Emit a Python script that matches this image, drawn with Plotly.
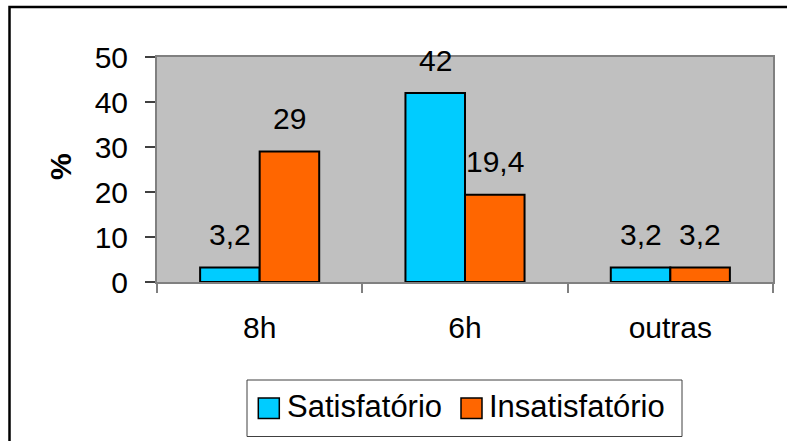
import plotly.graph_objects as go

categories = ["8h", "6h", "outras"]
satisfatorio = [3.2, 42, 3.2]
insatisfatorio = [29, 19.4, 3.2]
series_names = ["Satisfatório", "Insatisfatório"]
y_ticks = [0, 10, 20, 30, 40, 50]

BLUE = "#00CCFF"
ORANGE = "#FF6600"
FONT = "Liberation Sans, Arial, sans-serif"

W, H = 787, 441
L, R, T, B = 157, 14, 57, 159
PW, PH = W - L - R, H - T - B


def px_x(px):
    return (px - L) / PW


def px_y(py):
    return (H - B - py) / PH


def fmt(v):
    return f"{v:g}".replace(".", ",")


fig = go.Figure()
for name, vals, col in [(series_names[0], satisfatorio, BLUE),
                        (series_names[1], insatisfatorio, ORANGE)]:
    fig.add_trace(go.Bar(
        x=categories, y=vals, name=name,
        marker=dict(color=col, line=dict(color="black", width=2)),
        showlegend=False,
    ))

annotations = []
bar_px = PW / len(categories) * 0.58 / 2
for vals, sgn in [(satisfatorio, -1), (insatisfatorio, 1)]:
    for c, v in zip(categories, vals):
        annotations.append(dict(
            x=c, y=v, xref="x", yref="y", text=fmt(v), showarrow=False,
            xshift=sgn * bar_px / 2, yshift=33, yanchor="middle",
            font=dict(family=FONT, size=30, color="black"),
        ))

# y-axis title
annotations.append(dict(
    x=px_x(60), y=px_y(167), xref="paper", yref="paper", text="<b>%</b>",
    textangle=-90, showarrow=False, xanchor="center", yanchor="middle",
    font=dict(family=FONT, size=30, color="black"),
))

# legend (drawn)
leg_items = [(series_names[0], BLUE, 258.3, 287), (series_names[1], ORANGE, 461, 489)]
shapes = [
    dict(type="rect", xref="paper", yref="paper",
         x0=px_x(9.5), x1=px_x(800), y0=px_y(7), y1=px_y(460),
         line=dict(color="black", width=2.5), fillcolor="rgba(0,0,0,0)", layer="above"),
    dict(type="rect", xref="paper", yref="paper",
         x0=px_x(247), x1=px_x(682), y0=px_y(380), y1=px_y(436.5),
         line=dict(color="#404040", width=1), fillcolor="white"),
]
for name, col, sx, tx in leg_items:
    shapes.append(dict(type="rect", xref="paper", yref="paper",
                       x0=px_x(sx), x1=px_x(sx + 21), y0=px_y(398), y1=px_y(418.5),
                       line=dict(color="black", width=1.5), fillcolor=col))
    annotations.append(dict(
        x=px_x(tx - 2), y=px_y(406), xref="paper", yref="paper", text=name,
        showarrow=False, xanchor="left", yanchor="middle",
        font=dict(family=FONT, size=31, color="black"),
    ))

fig.update_layout(
    width=W, height=H,
    margin=dict(l=L, r=R, t=T, b=B, pad=0),
    paper_bgcolor="white", plot_bgcolor="#C0C0C0",
    barmode="group", bargap=0.42, bargroupgap=0,
    font=dict(family=FONT, size=30, color="black"),
    annotations=annotations, shapes=shapes,
    showlegend=False,
    xaxis=dict(
        type="category", tickson="boundaries", ticks="outside", ticklen=9,
        tickcolor="#808080", tickwidth=1.5,
        showline=True, linecolor="#808080", linewidth=2, mirror=True,
        showgrid=False, ticklabelstandoff=18,
        tickfont=dict(family=FONT, size=30, color="black"),
    ),
    yaxis=dict(
        range=[0, 50], tickvals=y_ticks, ticks="outside", ticklen=10,
        tickcolor="#404040", tickwidth=1.5,
        showline=True, linecolor="#808080", linewidth=2, mirror=True,
        showgrid=False, zeroline=False, ticklabelstandoff=11,
        tickfont=dict(family=FONT, size=30, color="black"),
    ),
)

fig.write_html("out.html")
